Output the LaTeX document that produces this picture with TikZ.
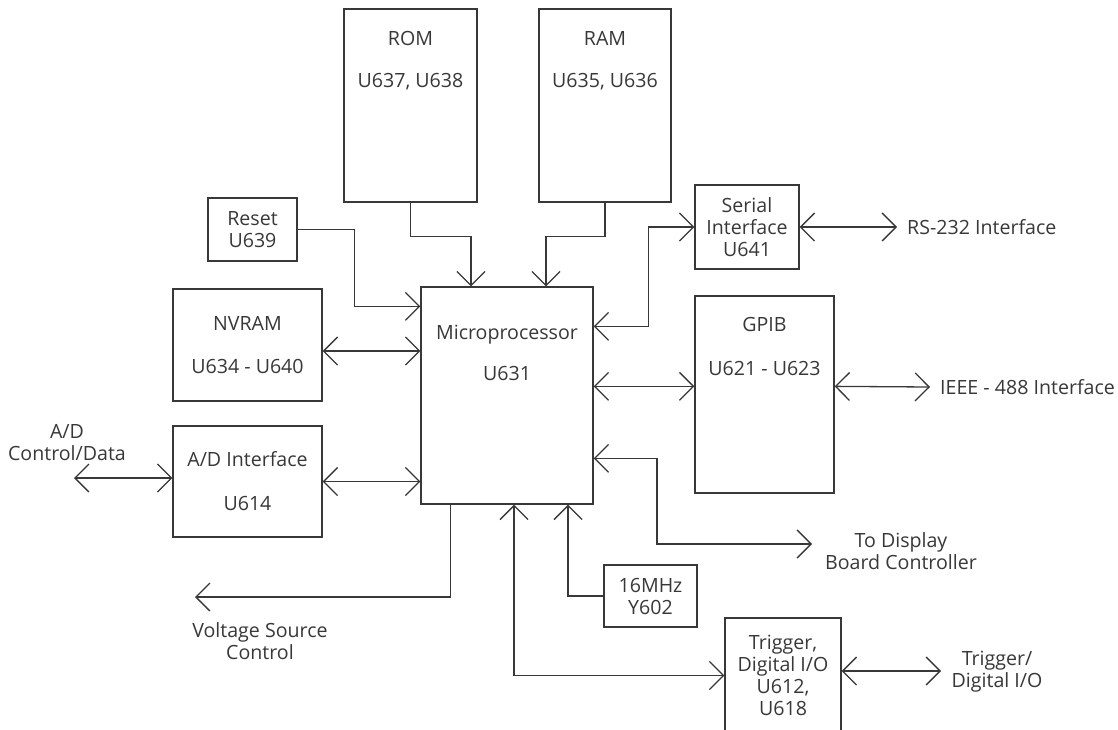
\documentclass[tikz,border=0pt]{standalone}
\usepackage{fontspec}
\setmainfont{Open Sans}
\usetikzlibrary{arrows.meta,calc}
\definecolor{ink}{HTML}{383838}
\tikzset{
  blk/.style={draw=ink, line width=1.3pt, inner sep=0pt, text=ink, align=center},
  txt/.style={inner sep=0pt, text=ink, align=center},
  barb/.tip={Straight Barb[length=14pt,width=28pt,line width=1.3pt]},
  wire/.style={draw=ink, line width=1.3pt, -barb},
  bwire/.style={draw=ink, line width=1.3pt, barb-barb}
}
\begin{document}
\begin{tikzpicture}[x=1pt, y=-1pt, font=\fontsize{19.6}{22}\selectfont]
\clip (0,0) rectangle (1118,729);
\fill[white] (0,0) rectangle (1118,729);
\node[blk, minimum width=133, minimum height=193] (rom) at (410.5,105.5) {};
\node[txt] (romtxt) at (410.5,60.5) {ROM\\[20pt]U637, U638};
\node[blk, minimum width=132, minimum height=193] (ram) at (605,105.5) {};
\node[txt] (ramtxt) at (605,60.5) {RAM\\[20pt]U635, U636};
\node[blk, minimum width=172, minimum height=217] (micro) at (507,395.5) {};
\node[txt] (microtxt) at (507,352.5) {Microprocessor\\[19pt]U631};
\node[blk, minimum width=139, minimum height=197] (gpib) at (764.5,394.5) {};
\node[txt] (gpibtxt) at (764.5,346) {GPIB\\[22pt]U621 - U623};
\node[blk, minimum width=89, minimum height=63] (reset) at (252.5,229.5) {Reset\\U639};
\node[blk, minimum width=149, minimum height=112] (nvram) at (247.5,345) {NVRAM\\[21pt]U634 - U640};
\node[blk, minimum width=149, minimum height=111] (adi) at (247.5,481.5) {A/D Interface\\[22pt]U614};
\node[blk, minimum width=104, minimum height=84] (serial) at (747,227) {Serial\\Interface\\U641};
\node[blk, minimum width=93, minimum height=62] (osc) at (650.5,596) {16MHz\\Y602};
\node[blk, minimum width=116, minimum height=115] (trig) at (783,675.5) {Trigger,\\Digital I/O\\U612,\\U618};

\coordinate (adcd) at (74,478);
\coordinate (vsc) at (195,597);
\coordinate (disp) at (812,544);
\coordinate (rs) at (897,227);
\coordinate (ieee) at (930,387);
\coordinate (tdio) at (941,671);
\node[txt] (adcdtxt) at (67,442.5) {A/D\\Control/Data};
\node[txt] (vsctxt) at (260,641) {Voltage Source\\Control};
\node[txt] (disptxt) at (901,551) {To Display\\Board Controller};
\node[txt, anchor=west] (rstxt) at (907,227) {RS-232 Interface};
\node[txt, anchor=west] (ieeetxt) at (940,387) {IEEE - 488 Interface};
\node[txt] (tdiotxt) at (997,672) {Trigger/\\Digital I/O};

\draw[wire] (rom.south) -- ++(0,34) -| ($(micro.north)+(-36,0)$);
\draw[wire] (ram.south) -- ++(0,34) -| ($(micro.north)+(39,0)$);
\draw[wire] (reset.east) -- ++(57,0) |- ($(micro.north west)+(0,20)$);
\draw[bwire] ($(nvram.east)+(0,6)$) coordinate (n1) -- (n1 -| micro.west);
\draw[bwire] (adi.east) -- (adi.east -| micro.west);
\draw[bwire] (adcd) -- (adcd -| adi.west);
\draw[wire] ($(micro.south west)+(30,0)$) |- (vsc);
\draw[bwire] ($(micro.south)+(7,0)$) |- (trig.west);
\draw[wire] (osc.west) -| ($(micro.south)+(61,0)$);
\draw[bwire] ($(micro.north east)+(0,172)$) -| ($(disp)+(-155,0)$) -- (disp);
\draw[bwire] ($(gpib.north west)+(0,91)$) coordinate (g1) -- (g1 -| micro.east);
\draw[bwire] (g1 -| gpib.east) -- (ieee);
\draw[bwire] ($(micro.north east)+(0,40)$) -| ($(serial.west)+(-46,0)$) -- (serial.west);
\draw[bwire] (serial.east) -- (rs);
\draw[bwire] (trig.east |- tdio) -- (tdio);
\end{tikzpicture}
\end{document}
